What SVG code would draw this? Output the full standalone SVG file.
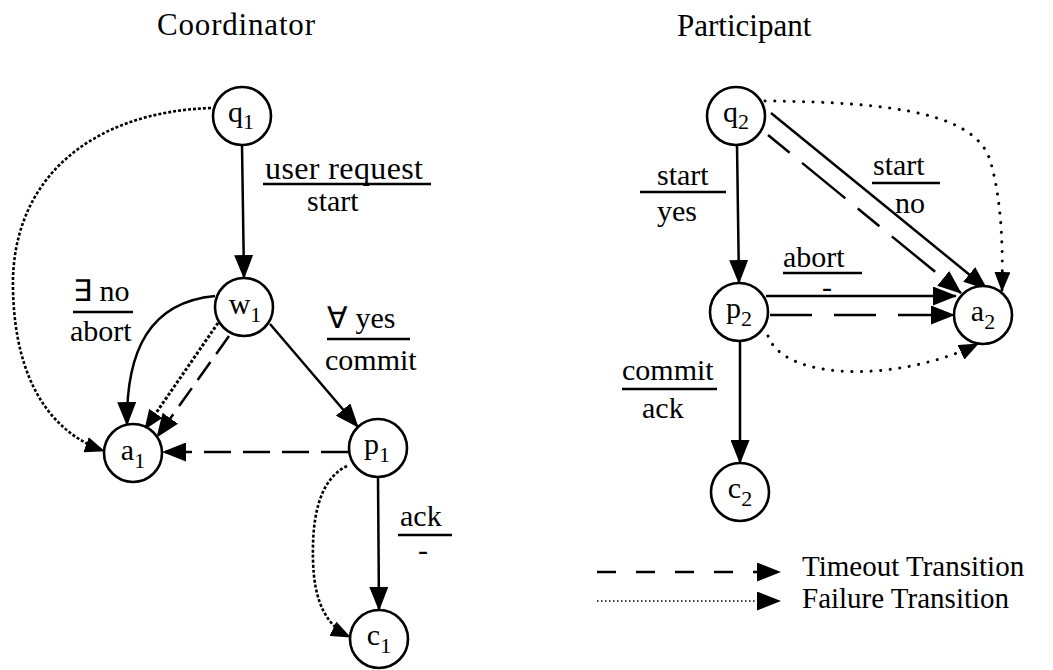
<svg xmlns="http://www.w3.org/2000/svg" width="1053" height="670" viewBox="0 0 1053 670">
  <style>
    text { font-family: "Liberation Serif", "Times New Roman", serif; fill: #000; }
    .title { font-size: 31px; }
    .lbl { font-size: 30px; }
    .key { font-size: 29px; }
    .node circle { fill: #fff; stroke: #000; stroke-width: 2.6; }
    .node text { font-size: 30px; text-anchor: middle; }
    .sub { font-size: 22px; }
    .rule { stroke: #000; stroke-width: 2.6; }
    .edge { fill: none; stroke: #000; stroke-width: 2.5; }
    .solid { marker-end: url(#ah); }
    .dash { stroke-dasharray: 27 12; marker-end: url(#ah); }
    .fdot { stroke-width: 2.6; stroke-dasharray: 3 2; marker-end: url(#ahs); }
    .sdot { stroke-width: 3; stroke-linecap: round; stroke-dasharray: 0.1 9.5; marker-end: url(#ahs); }
  </style>
  <defs>
    <marker id="ah" viewBox="0 0 24 19" refX="23" refY="9.5" markerWidth="24" markerHeight="19" markerUnits="userSpaceOnUse" orient="auto">
      <path d="M0,0 L24,9.5 L0,19 z" fill="#000"/>
    </marker>
    <marker id="ahs" viewBox="0 0 20 16" refX="19" refY="8" markerWidth="20" markerHeight="16" markerUnits="userSpaceOnUse" orient="auto">
      <path d="M0,0 L20,8 L0,16 z" fill="#000"/>
    </marker>
  </defs>

  <!-- headings -->
  <text class="title" x="157" y="35" textLength="158" lengthAdjust="spacing">Coordinator</text>
  <text class="title" x="677" y="36">Participant</text>

  <!-- transitions -->
  <g id="connectors">
    <!-- coordinator -->
    <path class="edge solid" d="M242,145 L244,278"/>
    <path class="edge fdot" d="M211,108 C90,112 10,180 13,290 C15,380 50,432 104,451"/>
    <path class="edge solid" d="M215,296 C150,302 126,350 127,425"/>
    <path class="edge fdot" style="stroke-width:3" d="M218,323 L145,429"/>
    <path class="edge" style="stroke-dasharray:22 10;marker-end:url(#ah)" d="M229,336 L157,437"/>
    <path class="edge solid" d="M270,324 L358,427"/>
    <path class="edge dash" d="M348,452 L163,452"/>
    <path class="edge solid" d="M378,477 L379,610"/>
    <path class="edge fdot" d="M347,466 C318,480 312,520 313,560 C314,600 325,625 350,637"/>

    <!-- participant -->
    <path class="edge solid" d="M737,145 L739,283"/>
    <path class="edge solid" d="M771,113 L987,289"/>
    <path class="edge" style="stroke-dasharray:28 16 56 16;marker-end:url(#ah)" d="M768,135 L961,293"/>
    <path class="edge sdot" d="M765,101 C900,102 975,115 990,160 C1002,200 1003,250 1002,291"/>
    <path class="edge solid" d="M766,296 L956,296"/>
    <path class="edge" style="stroke-dasharray:42 22;marker-end:url(#ah)" d="M770,315 L954,315"/>
    <path class="edge sdot" d="M768,336 C785,382 900,382 978,344"/>
    <path class="edge solid" d="M740,341 L740,463"/>
  </g>

  <!-- transition labels -->
  <g id="labels">
    <text class="lbl" style="font-size:32px" x="265" y="179" textLength="158" lengthAdjust="spacing">user request</text>
    <line class="rule" x1="263" y1="184" x2="431" y2="184"/>
    <text class="lbl" x="307" y="211">start</text>

    <text class="lbl" x="73" y="301">∃ no</text>
    <line class="rule" x1="73" y1="312" x2="133" y2="312"/>
    <text class="lbl" x="70" y="341">abort</text>

    <text class="lbl" x="327" y="328">∀ yes</text>
    <line class="rule" x1="327" y1="339" x2="410" y2="339"/>
    <text class="lbl" x="325" y="370">commit</text>

    <text class="lbl" x="400" y="526">ack</text>
    <line class="rule" x1="398" y1="535" x2="452" y2="535"/>
    <text class="lbl" x="418" y="560">-</text>

    <text class="lbl" x="657" y="185">start</text>
    <line class="rule" x1="640" y1="192" x2="726" y2="192"/>
    <text class="lbl" x="657" y="221">yes</text>

    <text class="lbl" x="873" y="175">start</text>
    <line class="rule" x1="872" y1="183" x2="940" y2="183"/>
    <text class="lbl" x="895" y="213">no</text>

    <text class="lbl" x="783" y="267">abort</text>
    <line class="rule" x1="783" y1="273" x2="862" y2="273"/>
    <text class="lbl" x="822" y="297">-</text>

    <text class="lbl" x="622" y="380">commit</text>
    <line class="rule" x1="622" y1="389" x2="717" y2="389"/>
    <text class="lbl" x="642" y="418">ack</text>
  </g>

  <!-- states -->
  <g id="q1" class="node"><circle cx="242" cy="116" r="29"/><text x="241" y="122">q<tspan class="sub" dy="7">1</tspan></text></g>
  <g id="w1" class="node"><circle cx="244" cy="307" r="29"/><text x="245" y="314">w<tspan class="sub" dy="8">1</tspan></text></g>
  <g id="a1" class="node"><circle cx="133" cy="453" r="29"/><text x="133" y="460">a<tspan class="sub" dy="8">1</tspan></text></g>
  <g id="p1" class="node"><circle cx="378" cy="448" r="29"/><text x="377" y="454">p<tspan class="sub" dy="8">1</tspan></text></g>
  <g id="c1" class="node"><circle cx="379" cy="639" r="29"/><text x="379" y="645">c<tspan class="sub" dy="8">1</tspan></text></g>

  <g id="q2" class="node"><circle cx="736" cy="116" r="29"/><text x="736" y="122">q<tspan class="sub" dy="7">2</tspan></text></g>
  <g id="p2" class="node"><circle cx="739" cy="312" r="29"/><text x="739" y="318">p<tspan class="sub" dy="8">2</tspan></text></g>
  <g id="a2" class="node"><circle cx="983" cy="315" r="29"/><text x="983" y="321">a<tspan class="sub" dy="8">2</tspan></text></g>
  <g id="c2" class="node"><circle cx="740" cy="492" r="29"/><text x="740" y="498">c<tspan class="sub" dy="8">2</tspan></text></g>

  <!-- key -->
  <g id="legend">
    <path class="edge" style="stroke-dasharray:19 20;marker-end:url(#ah)" d="M597,572 L780,572"/>
    <text class="key" x="802" y="576">Timeout Transition</text>
    <path class="edge" style="stroke-width:1.6;stroke-dasharray:1.5 2.5;marker-end:url(#ah)" d="M597,601 L780,601"/>
    <text class="key" x="802" y="608">Failure Transition</text>
  </g>
</svg>
